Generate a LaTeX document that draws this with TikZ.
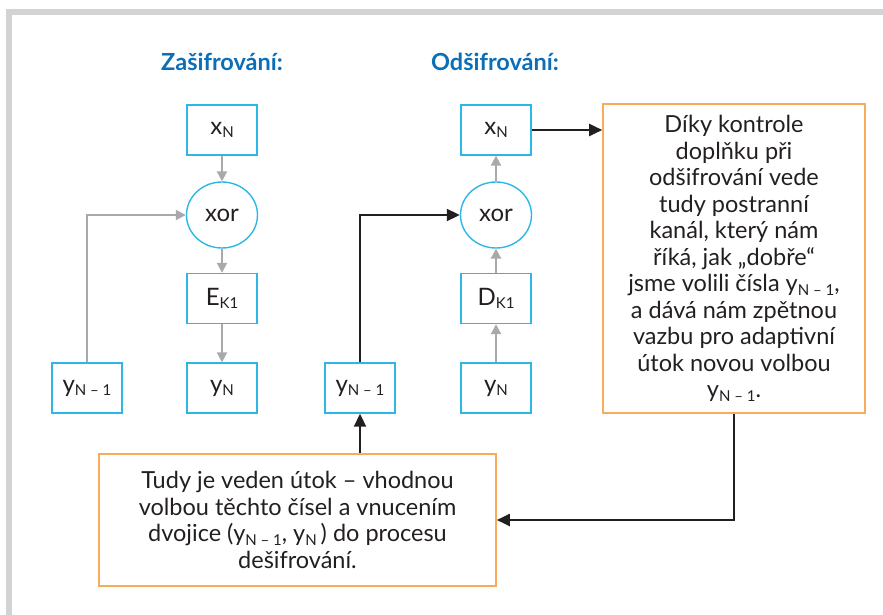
\documentclass[tikz,border=0pt]{standalone}
\usepackage{fontspec}
\setmainfont{Lato}
\usetikzlibrary{arrows.meta,shapes.geometric}
\definecolor{cyanb}{HTML}{2CB7E9}
\definecolor{orangeb}{HTML}{F8AB5A}
\definecolor{grayarr}{HTML}{A9A9AB}
\definecolor{blackarr}{HTML}{231F20}
\definecolor{titleblue}{HTML}{0B6FB8}
\definecolor{framegray}{HTML}{D2D3D4}
\definecolor{textc}{HTML}{231F20}
\newcommand\lo[1]{\raisebox{-0.3ex}{\fontsize{15}{15}\selectfont #1}}
\begin{document}
\begin{tikzpicture}[x=1pt,y=-1pt,
  bbox/.style={draw=cyanb, line width=1.4pt, minimum width=70pt, minimum height=50pt, inner sep=0pt, text=textc, font=\fontsize{24}{26}\selectfont},
  xorn/.style={draw=cyanb, line width=1.4pt, ellipse, minimum width=71pt, minimum height=66pt, inner sep=0pt, text=textc, font=\fontsize{24}{26}\selectfont},
  obox/.style={draw=orangeb, line width=1.6pt, inner sep=0pt, align=center, text=textc, font=\fontsize{23.5}{26.5}\selectfont},
  garrow/.style={draw=grayarr, line width=2pt, -{Triangle[length=10pt,width=10pt]}},
  karrow/.style={draw=blackarr, line width=2pt, -{Triangle[length=13pt,width=12pt]}},
  titlet/.style={text=titleblue, font=\fontsize{23.5}{26}\selectfont\bfseries}
]
\useasboundingbox (0,0) rectangle (883,615);
\fill[framegray] (6,9) rectangle (883,15);
\fill[framegray] (6,9) rectangle (12,615);

\node[titlet] (t1) at (222,62) {Zašifrování:};
\node[titlet] (t2) at (495,62) {Odšifrování:};

% encryption
\node[bbox] (ex) at (222,130) {x\lo{N}};
\node[xorn] (exor) at (222,215) {xor};
\node[bbox] (ee) at (222,298.5) {E\lo{K1}};
\node[bbox] (ey) at (222,388) {y\lo{N}};
\node[bbox] (ey1) at (87,388) {y\lo{N – 1}};
\draw[garrow] (ex) -- (exor);
\draw[garrow] (exor) -- (ee);
\draw[garrow] (ee) -- (ey);
\draw[garrow] (ey1.north) |- (exor.west);

% decryption
\node[bbox] (dx) at (496,130) {x\lo{N}};
\node[xorn] (dxor) at (496,215) {xor};
\node[bbox] (dd) at (496,298.5) {D\lo{K1}};
\node[bbox] (dy) at (496,388) {y\lo{N}};
\node[bbox] (dy1) at (360,388) {y\lo{N – 1}};
\draw[garrow] (dy) -- (dd);
\draw[garrow] (dd) -- (dxor);
\draw[garrow] (dxor) -- (dx);
\draw[karrow] (dy1.north) |- (dxor.west);

% notes
\node[obox, minimum width=262pt, minimum height=309pt] (rbox) at (734,258.5)
 {Díky kontrole\\ doplňku při\\ odšifrování vede\\ tudy postranní\\ kanál, který nám\\ říká, jak „dobře“\\ jsme volili čísla y\lo{N – 1},\\ a dává nám zpětnou\\ vazbu pro adaptivní\\ útok novou volbou\\ y\lo{N – 1}.};
\node[obox, minimum width=397pt, minimum height=132pt] (lbox) at (297.5,520)
 {Tudy je veden útok – vhodnou\\ volbou těchto čísel a vnucením\\ dvojice (y\lo{N – 1}, y\lo{N}\,) do procesu\\ dešifrování.};

\draw[karrow] (dx.east) -- (dx.east -| rbox.west);
\draw[karrow] (lbox.north -| dy1.south) -- (dy1.south);
\draw[karrow] (rbox.south) |- (lbox.east);
\end{tikzpicture}
\end{document}
